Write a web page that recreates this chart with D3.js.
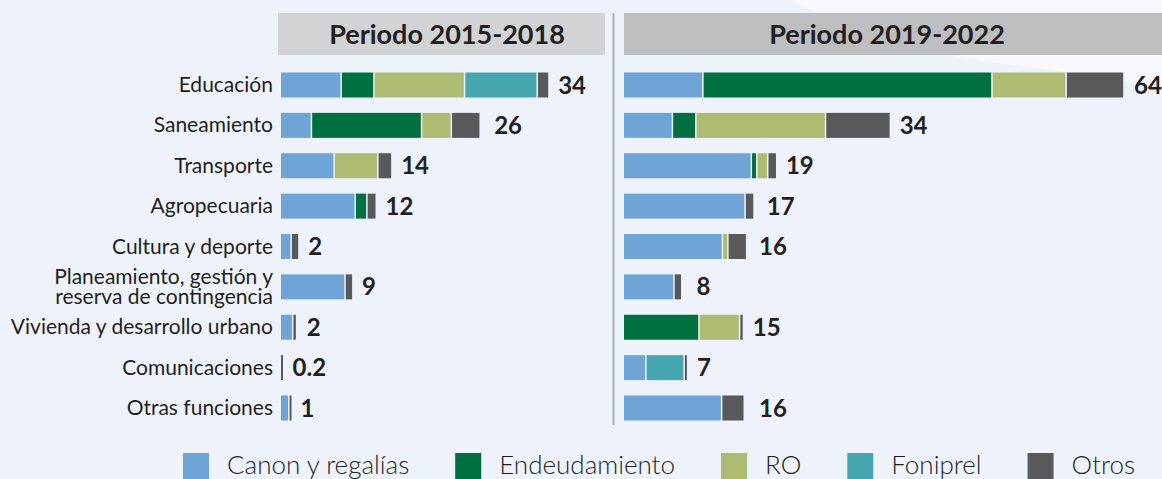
<!DOCTYPE html>
<html><head><meta charset="utf-8">
<script src="https://cdn.jsdelivr.net/npm/d3@7"></script>
<style>body{margin:0;background:#eef3fb}svg{display:block}text{font-family:Lato,"Open Sans",sans-serif}</style>
</head><body>
<svg id="chart" width="1162" height="479"></svg>
<script>
const categories = ["Educación","Saneamiento","Transporte","Agropecuaria","Cultura y deporte","Planeamiento, gestión y\nreserva de contingencia","Vivienda y desarrollo urbano","Comunicaciones","Otras funciones"];
const series = ["Canon y regalías","Endeudamiento","RO","Foniprel","Otros"];
const colors = ["#6fa4d7","#007041","#aebb72","#45a6b0","#58595b"];
const periods = ["Periodo 2015-2018","Periodo 2019-2022"];

// Periodo 2015-2018
const canon1  = [7.6, 3.8, 6.7, 9.4, 1.2, 8.1, 1.4, 0,   0.9];
const endeu1  = [4.2, 14.1, 0,  1.5, 0,   0,   0,   0,   0];
const ro1     = [11.6, 3.8, 5.6, 0,  0,   0,   0,   0,   0];
const fonip1  = [9.3, 0,   0,   0,   0,   0,   0,   0,   0];
const otros1  = [1.5, 3.7, 1.8, 1.2, 1.0, 1.0, 0.5, 0.2, 0.3];
const totals1 = ["34","26","14","12","2","9","2","0.2","1"];

// Periodo 2019-2022
const canon2  = [10.0, 6.1, 16.2, 15.4, 12.5, 6.3, 0,   2.7, 12.4];
const endeu2  = [37.0, 3.0, 0.7,  0,    0,    0,   9.5, 0,   0];
const ro2     = [9.5, 16.6, 1.4,  0,    0.7,  0,   5.2, 0,   0];
const fonip2  = [0,    0,   0,    0,    0,    0,   0,   4.9, 0];
const otros2  = [7.4,  8.3, 1.15, 1.15, 2.4,  1.0, 0.5, 0.45, 2.9];
const totals2 = ["64","34","19","17","16","8","15","7","16"];

const svg = d3.select("#chart");
const W = 1162, H = 479;

// background decoration
svg.append("rect").attr("width", W).attr("height", H).attr("fill", "#eef3fb");
svg.append("path")
  .attr("d", d3.line().curve(d3.curveCatmullRom)([[790,0],[813,11],[880,36],[950,55],[1067,72],[1162,86]]) + "L1162,0Z")
  .attr("fill", "#f6f8fc");

const x = d3.scaleLinear().domain([0, 64]).range([0, 500]);
const y = d3.scalePoint().domain(categories).range([85, 408]);
const barH = 25;

const panels = [
  {origin: 281, data: [canon1, endeu1, ro1, fonip1, otros1], totals: totals1,
   hx: 278, hw: 327, hfill: "#d1d3d4", tx: 447, labels: true},
  {origin: 624, data: [canon2, endeu2, ro2, fonip2, otros2], totals: totals2,
   hx: 624, hw: 538, hfill: "#bcbec0", tx: 887, labels: false}
];

// separator
svg.append("line").attr("x1", 613.5).attr("x2", 613.5).attr("y1", 13).attr("y2", 425)
  .attr("stroke", "#aeb0b3").attr("stroke-width", 2);

panels.forEach((p, pi) => {
  svg.append("rect").attr("x", p.hx).attr("y", 13).attr("width", p.hw).attr("height", 42).attr("fill", p.hfill);
  svg.append("text").attr("x", p.tx).attr("y", 43.5).attr("text-anchor", "middle")
    .attr("font-size", 27).attr("font-weight", 700).attr("fill", "#231f20").text(periods[pi]);

  const rows = categories.map((c, i) => {
    let acc = 0;
    const segs = p.data.map((arr, si) => {
      const s = {cat: c, si, x0: acc, x1: acc + arr[i]};
      acc += arr[i];
      return s;
    }).filter(s => s.x1 > s.x0);
    return {cat: c, segs, sum: acc, total: p.totals[i]};
  });

  const g = svg.append("g").attr("transform", `translate(${p.origin},0)`);
  rows.forEach(r => {
    r.segs.forEach((s, k) => {
      const gap = k > 0 ? 1.5 : 0;
      const x0 = x(s.x0) + gap;
      const w = Math.max(x(s.x1) - x(s.x0) - gap, 2);
      g.append("rect").attr("x", x0).attr("y", y(r.cat) - barH/2)
        .attr("width", w).attr("height", barH).attr("fill", colors[s.si]);
    });
    const end = Math.max(x(r.sum), x(+r.total));
    g.append("text").attr("x", end + 10).attr("y", y(r.cat) + 8.5)
      .attr("font-size", 24).attr("font-weight", 700).attr("fill", "#231f20").text(r.total);
  });

  if (p.labels) {
    categories.forEach(c => {
      const lines = c.split("\n");
      const t = svg.append("text").attr("x", 273).attr("text-anchor", "end")
        .attr("font-size", 21).attr("fill", "#231f20");
      if (lines.length === 1) {
        t.attr("y", y(c) + 7).text(c);
      } else {
        lines.forEach((l, li) => t.append("tspan").attr("x", 273)
          .attr("y", y(c) - 3 + li * 20).text(l));
      }
    });
  }
});

// legend
let lx = 183;
series.forEach((s, i) => {
  svg.append("rect").attr("x", lx).attr("y", 453).attr("width", 26).attr("height", 26).attr("fill", colors[i]);
  const t = svg.append("text").attr("x", lx + 44).attr("y", 474).attr("font-size", 26)
    .attr("font-weight", 300).attr("fill", "#231f20").text(s);
  lx = lx + 44 + t.node().getComputedTextLength() + 46;
});
</script>
</body></html>
